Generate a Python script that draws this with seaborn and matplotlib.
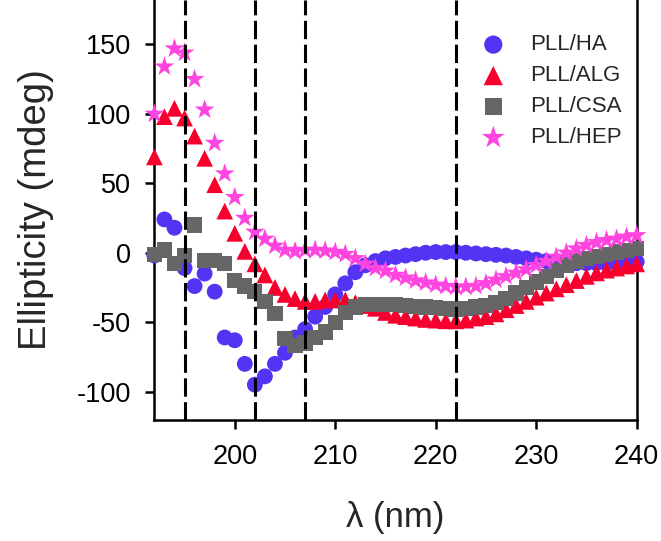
import numpy as np
import pandas as pd
import matplotlib
matplotlib.use("Agg")
import matplotlib.pyplot as plt
import seaborn as sns

# ---------------- data ----------------
wavelength = list(range(192, 241))

pll_ha = [-2, 24, 18, -11, -24, -15, -28, -61, -63, -80,
          -95, -89, -80, -72, -61, -55, -46, -39, -30, -22,
          -14, -9, -6, -4, -3, -2, -1, 0, 0.5, 0.5,
          0.5, 0, -0.5, -1, -1.5, -2, -3, -4, -5, -6,
          -7, -7.5, -7.5, -7.5, -7.5, -7.5, -7, -7, -6.5]

pll_alg = [69, 98, 104, 97, 84, 68, 49, 30, 14, 1,
           -8, -16, -25, -30, -33, -35, -35, -34, -34, -34,
           -36, -38, -40, -43, -45, -46, -47, -48, -48.5, -49,
           -49, -48.5, -47, -46, -44, -41, -38, -35, -32, -29,
           -26, -23, -20, -17, -14.5, -12.5, -11, -9.5, -8]

pll_csa = [-1, 2, -8, -2, 20, -5.5, -5.5, -7.5, -20, -24,
           -28, -35, -44, -62, -67, -65, -61, -57, -50, -43,
           -39, -37, -37, -37, -37.5, -38, -38.5, -39, -39.5, -40,
           -40.5, -40, -39, -38, -36, -33, -29, -25, -21, -17,
           -13, -9, -6, -4, -2.5, -1, 0.5, 1.5, 3]

pll_hep = [100, 134, 147, 144, 125, 103, 79, 57, 40, 25,
           15, 10, 5, 2, 1, 2, 2, 1.5, 0.5, -1,
           -4, -8, -11, -13, -16, -18, -20, -21.5, -23, -24,
           -24.5, -24.5, -24, -22, -19.5, -17, -14.5, -12, -9, -6,
           -3, 0, 3, 5.5, 7.5, 9, 10, 11.5, 12.5]

series_names = ["PLL/HA", "PLL/ALG", "PLL/CSA", "PLL/HEP"]
series_values = [pll_ha, pll_alg, pll_csa, pll_hep]
dashed_positions = [195, 202, 207, 222]
x_ticks = [200, 210, 220, 230, 240]
y_ticks = [-100, -50, 0, 50, 100, 150]

df = pd.concat(
    [pd.DataFrame({"wl": wavelength, "ell": vals, "sample": name})
     for name, vals in zip(series_names, series_values)],
    ignore_index=True,
)

# ---------------- style ----------------
sns.set_theme(style="ticks")
plt.rcParams["font.family"] = ["Liberation Sans", "DejaVu Sans"]
plt.rcParams["axes.unicode_minus"] = False

colors = {"PLL/HA": "#5533F5", "PLL/ALG": "#F8002E",
          "PLL/CSA": "#666666", "PLL/HEP": "#FF44E0"}
markers = {"PLL/HA": "o", "PLL/ALG": "^", "PLL/CSA": "s", "PLL/HEP": "*"}
sizes = {"PLL/HA": 130, "PLL/ALG": 145, "PLL/CSA": 120, "PLL/HEP": 225}

fig = plt.figure(figsize=(6.61, 5.41), dpi=100)
ax = fig.add_axes([0.2328, 0.2237, 0.7304, 0.7763])

for name in series_names:
    sub = df[df["sample"] == name]
    sns.scatterplot(data=sub, x="wl", y="ell", ax=ax, color=colors[name],
                    marker=markers[name], s=sizes[name], edgecolor="none",
                    linewidth=0, label=name, clip_on=False, zorder=3)

for xv in dashed_positions:
    ax.axvline(xv, color="black", lw=2.2, dashes=(6.0, 1.8), zorder=5)

ax.set_xlim(191.95, 240)
ax.set_ylim(-120.4, 182)
ax.set_xticks(x_ticks)
ax.set_yticks(y_ticks)

for side in ["left", "bottom", "right"]:
    ax.spines[side].set_linewidth(1.8)
    ax.spines[side].set_color("black")
ax.spines["top"].set_visible(False)
ax.tick_params(axis="both", direction="out", length=6.5, width=1.8,
               labelsize=19.5, colors="black")
ax.tick_params(axis="y", pad=10)
ax.tick_params(axis="x", pad=11)

ax.set_xlabel("λ (nm)", fontsize=25, labelpad=22)
ax.set_ylabel("Ellipticity (mdeg)", fontsize=27.5, labelpad=16)

handles, labels = ax.get_legend_handles_labels()
leg = ax.legend(handles, labels, loc="upper left",
                bbox_to_anchor=(0.68, 0.918), frameon=False, fontsize=16,
                handlelength=1.0, handletextpad=1.15, labelspacing=0.45,
                borderpad=0, borderaxespad=0, markerscale=1.15)

fig.savefig("out.png", dpi=100)
